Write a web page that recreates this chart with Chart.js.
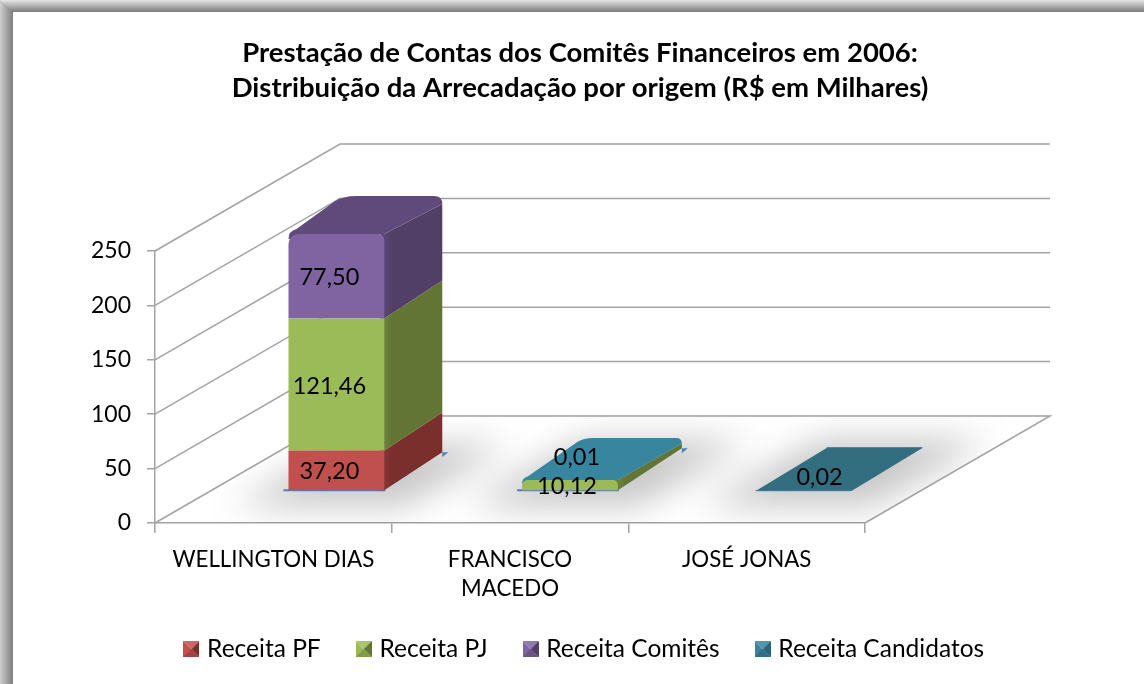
<!DOCTYPE html>
<html><head><meta charset="utf-8">
<style>html,body{margin:0;padding:0;background:#fff}canvas{display:block}</style>
<script src="https://cdn.jsdelivr.net/npm/chart.js@4"></script>
</head><body>
<div style="width:1144px;height:684px;position:relative"><canvas id="c" width="1144" height="684"></canvas></div>
<script>
const categories = ['WELLINGTON DIAS', ['FRANCISCO', 'MACEDO'], 'JOSÉ JONAS'];
const receitaPF = [37.20, null, null];
const receitaPJ = [121.46, 10.12, null];
const receitaComites = [77.50, null, null];
const receitaCandidatos = [null, 0.01, 0.02];
const seriesNames = ['Receita PF', 'Receita PJ', 'Receita Comitês', 'Receita Candidatos'];
const titleLines = ['Prestação de Contas dos Comitês Financeiros em 2006:', 'Distribuição da Arrecadação por origem (R$ em Milhares)'];
const frontColors = ['#C0504D', '#9BBB59', '#8064A2', '#37859E'];
const sideColors = ['#7A2F2D', '#627534', '#513F67', '#2A6577'];
const topColors = ['#8F3B39', '#738A42', '#604A7B', '#37859E'];

const FONT = 'Lato';
// perspective constants of the 3D projection
const WALL = {dx: 185, dy: -107};
const planeScale = 0.987, planeX = 66.6, planeY = -32;
const depth = [[58, -38], [64, -42], [71, -43]];
const px = x => planeScale * x + planeX;
const py = y => y + planeY;
const lineColor = '#A3A3A3';
const footprint = '#4F81BD';

function poly(ctx, pts, fill) {
  ctx.beginPath();
  pts.forEach((p, i) => i ? ctx.lineTo(p[0], p[1]) : ctx.moveTo(p[0], p[1]));
  ctx.closePath();
  if (fill) { ctx.fillStyle = fill; ctx.fill(); }
}
function topFace(ctx, x0, x1, yt, dx, dy, r, fill) {
  ctx.beginPath();
  ctx.moveTo(x0, yt + r * 0.5);
  ctx.quadraticCurveTo(x0, yt - r * 0.3, x0 + r * 0.8, yt - r * 0.5);
  ctx.lineTo(x0 + dx - r * 1.2, yt + dy + r * 0.55);
  ctx.quadraticCurveTo(x0 + dx - r * 0.4, yt + dy, x0 + dx + r, yt + dy);
  ctx.lineTo(x1 + dx - r * 0.8, yt + dy);
  ctx.quadraticCurveTo(x1 + dx, yt + dy, x1 + dx, yt + dy + r * 0.8);
  ctx.lineTo(x1, yt);
  ctx.lineTo(x0, yt + r * 0.5);
  ctx.closePath();
  ctx.fillStyle = fill; ctx.fill();
}
function legendIcon(i) {
  const s = 16, cv = document.createElement('canvas');
  cv.width = s; cv.height = s;
  const g = cv.getContext('2d'), c = s / 2;
  const base = frontColors[i], dark = sideColors[i];
  poly(g, [[0, 0], [s, s], [0, s]], base);
  poly(g, [[0, 0], [s, 0], [c, c]], base);
  g.fillStyle = 'rgba(255,255,255,.14)'; poly(g, [[0, 0], [s, 0], [c, c]]); g.fill();
  poly(g, [[s, 0], [s, s], [c, c]], dark);
  poly(g, [[0, s], [s, s], [c, c]], base);
  g.fillStyle = 'rgba(0,0,0,.16)'; poly(g, [[0, s], [s, s], [c, c]]); g.fill();
  return cv;
}
function barsByCategory(chart) {
  return chart.data.labels.map((_, j) => {
    const list = [];
    chart.data.datasets.forEach((d, i) => {
      if (d.data[j] != null) list.push({i, value: d.data[j], el: chart.getDatasetMeta(i).data[j]});
    });
    return list;
  });
}

const pseudo3d = {
  id: 'pseudo3d',
  beforeDraw(chart) {
    const ctx = chart.ctx;
    ctx.save();
    ctx.fillStyle = '#fff'; ctx.fillRect(0, 0, chart.width, chart.height);
    let g = ctx.createLinearGradient(0, 0, 13, 0);
    g.addColorStop(0, '#CFCFCF'); g.addColorStop(.9, '#868686'); g.addColorStop(1, '#808080');
    ctx.fillStyle = g; ctx.fillRect(0, 0, 13, chart.height);
    g = ctx.createLinearGradient(0, 0, 0, 12);
    g.addColorStop(0, '#E6E6E6'); g.addColorStop(.9, '#858585'); g.addColorStop(1, '#7E7E7E');
    ctx.fillStyle = g; poly(ctx, [[0, 0], [chart.width, 0], [chart.width, 12], [13, 12]]); ctx.fill();
    ctx.restore();
  },
  beforeDatasetsDraw(chart) {
    const ctx = chart.ctx, ys = chart.scales.y, {left, right} = chart.chartArea;
    const bottom = ys.getPixelForValue(0);
    ctx.save();
    // floor shadows
    const floor = [[left, bottom], [right, bottom], [right + WALL.dx, bottom + WALL.dy], [left + WALL.dx, bottom + WALL.dy]];
    ctx.save();
    poly(ctx, floor); ctx.clip();
    ctx.filter = 'blur(17px)';
    barsByCategory(chart).forEach((bars, j) => {
      const el = bars[0].el, x0 = px(el.x - el.width / 2), x1 = px(el.x + el.width / 2), y0 = py(el.base);
      const [dx, dy] = depth[j];
      poly(ctx, [[x0 - 55, y0 + 16], [x1 + 20, y0 + 16], [x1 + dx + 66, y0 + dy - 8], [x0 + dx - 4, y0 + dy - 8]], 'rgba(0,0,0,.22)');
    });
    ctx.restore();
    // walls and gridlines
    ctx.strokeStyle = lineColor; ctx.lineWidth = 1.5;
    ys.ticks.forEach(t => {
      const y = ys.getPixelForValue(t.value);
      ctx.beginPath();
      ctx.moveTo(left, y);
      ctx.lineTo(left + WALL.dx, y + WALL.dy);
      ctx.lineTo(right + WALL.dx, y + WALL.dy);
      if (t.value === 0) ctx.lineTo(right, bottom);
      ctx.stroke();
    });
    // bar footprints and 3D faces
    barsByCategory(chart).forEach((bars, j) => {
      const [dx, dy] = depth[j];
      const first = bars[0].el, x0 = px(first.x - first.width / 2), x1 = px(first.x + first.width / 2), y0 = py(first.base);
      const top = bars[bars.length - 1], yTop = py(top.el.y), flat = y0 - yTop < 1;
      const r = flat ? 0 : (bars.length > 2 ? 10 : 7);
      if (flat) {
        poly(ctx, [[x0 + 1, y0 + 1], [x1 - 1, y0 + 1], [x1 - 1, y0], [x0 + 1, y0]], footprint);
        poly(ctx, [[x0 + dx, yTop + dy], [x1 + dx, yTop + dy], [x1 + dx, yTop + dy - 1], [x0 + dx, yTop + dy - 1]], footprint);
      } else {
        poly(ctx, [[x0 - 5, y0 + 1], [x1 + 1, y0 + 1], [x1 + 1, y0 - 1], [x0 - 5, y0 - 1]], footprint);
        poly(ctx, [[x1 + dx, y0 + dy + 5], [x1 + dx + 6, y0 + dy], [x1 + dx, y0 + dy]], footprint);
      }
      bars.forEach(b => {
        const yb = py(b.el.base), yt = py(b.el.y);
        if (yb - yt < 1) return;
        const g = ctx.createLinearGradient(x1 - 4, 0, x1 + 8, 0);
        g.addColorStop(0, topColors[b.i]); g.addColorStop(1, sideColors[b.i]);
        const isTop = yt - yTop < 2;
        const backTop = isTop ? yt + dy + r * 0.8 : yt + dy;
        poly(ctx, [[x1 - 4, yb], [x1, yb], [x1 + dx, yb + dy], [x1 + dx, backTop], [x1, yt], [x1 - 4, yt]], g);
      });
      if (flat) {
        poly(ctx, [[x0, yTop], [x1, yTop], [x1 + dx, yTop + dy], [x0 + dx, yTop + dy]], '#326D80');
      } else {
        topFace(ctx, x0, x1, yTop, dx, dy, r, topColors[top.i]);
      }
    });
    ctx.restore();
    ctx.save();
    ctx.transform(planeScale, 0, 0, 1, planeX, planeY);
  },
  afterDatasetsDraw(chart) {
    const ctx = chart.ctx;
    ctx.restore();
    ctx.save();
    ctx.font = '23.5px ' + FONT;
    ctx.textAlign = 'center'; ctx.textBaseline = 'middle'; ctx.fillStyle = '#000';
    barsByCategory(chart).forEach((bars, j) => {
      bars.forEach(b => {
        const flat = b.value < 1;
        const nudgeX = flat ? (j === 1 ? 7 : 16) : (j === 0 ? -7 : -3);
        const nudgeY = flat ? (j === 1 ? -23 : -13) : 1.5;
        const x = px(b.el.x) + nudgeX;
        const y = py((b.el.y + b.el.base) / 2) + nudgeY;
        ctx.fillText(b.value.toFixed(2).replace('.', ','), x, y);
      });
    });
    ctx.restore();
  },
  afterLayout(chart) {
    const h = chart.legend.bottom - chart.legend.top;
    chart.legend.top = 649 - 39.5 - 12.25;
    chart.legend.bottom = chart.legend.top + h;
    chart.legend.left += 6; chart.legend.right += 6;
  }
};

const radius = c => {
  if (c.datasetIndex === 2 && c.dataIndex === 0) return {topLeft: 10, topRight: 6, bottomLeft: 0, bottomRight: 0};
  if (c.datasetIndex === 1 && c.dataIndex === 1) return {topLeft: 7, topRight: 5, bottomLeft: 0, bottomRight: 0};
  return 0;
};
const series = [receitaPF, receitaPJ, receitaComites, receitaCandidatos];

new Chart(document.getElementById('c'), {
  type: 'bar',
  data: {
    labels: categories,
    datasets: series.map((data, i) => ({
      label: seriesNames[i], data,
      backgroundColor: frontColors[i],
      borderWidth: 0, borderSkipped: false, borderRadius: radius,
      pointStyle: legendIcon(i), clip: false,
      categoryPercentage: 0.41, barPercentage: 1
    }))
  },
  plugins: [pseudo3d],
  options: {
    responsive: false, animation: false,
    layout: {padding: {left: 16, right: 0, top: 0, bottom: 0}},
    plugins: {
      tooltip: {enabled: false},
      title: {
        display: true, text: titleLines, color: '#000',
        font: {family: FONT, size: 27.5, weight: 'bold', lineHeight: 35 / 27.5},
        padding: {top: 35.5, bottom: 145.5}
      },
      legend: {
        position: 'bottom',
        labels: {
          color: '#000', usePointStyle: true, boxWidth: 7, padding: 39.5,
          font: {family: FONT, size: 24.5}
        }
      }
    },
    scales: {
      x: {
        stacked: true,
        afterFit: s => { s.height = 163 - 39.5 - 24.5 - 12; },
        grid: {display: true, drawOnChartArea: false, drawTicks: true, tickLength: 10, color: lineColor, lineWidth: 1.5},
        border: {display: true, color: lineColor, width: 1.5},
        ticks: {color: '#000', font: {family: FONT, size: 22.3, lineHeight: 1.3}, padding: 12, maxRotation: 0, autoSkip: false}
      },
      y: {
        stacked: true, min: 0, max: 250,
        afterFit: s => { s.width = 139; },
        grid: {display: true, drawOnChartArea: false, drawTicks: true, tickLength: 8, color: lineColor, lineWidth: 1.5},
        border: {display: true, color: lineColor, width: 1.5},
        ticks: {color: '#000', stepSize: 50, font: {family: FONT, size: 23}, padding: 16}
      },
      spacer: {
        position: 'right', display: true,
        afterFit: s => { s.width = 279; },
        grid: {display: false}, border: {display: false}, ticks: {display: false}
      }
    }
  }
});
</script>
</body></html>
